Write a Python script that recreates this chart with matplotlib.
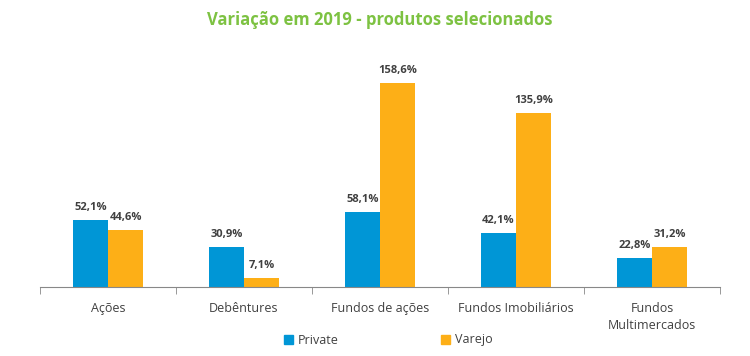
import matplotlib
matplotlib.use("Agg")
import matplotlib.pyplot as plt
import numpy as np
from matplotlib.patches import Patch

categories = ["Ações", "Debêntures", "Fundos de ações", "Fundos Imobiliários", "Fundos\nMultimercados"]
private = [52.1, 30.9, 58.1, 42.1, 22.8]
varejo = [44.6, 7.1, 158.6, 135.9, 31.2]
private_labels = ["52,1%", "30,9%", "58,1%", "42,1%", "22,8%"]
varejo_labels = ["44,6%", "7,1%", "158,6%", "135,9%", "31,2%"]

plt.rcParams['font.family'] = ['Open Sans', 'DejaVu Sans']

blue = "#0096D6"
orange = "#FDAF17"
txt = "#404040"

fig = plt.figure(figsize=(7.5, 3.56), dpi=100)
ax = fig.add_axes([40/750, 1-287/356, 680/750, (287-56)/356])

x = np.arange(len(categories))
w = 0.26
b1 = ax.bar(x - w/2, private, w, color=blue)
b2 = ax.bar(x + w/2, varejo, w, color=orange)

for xi, v, l in zip(x, private, private_labels):
    ax.text(xi - w/2, v + 5.5, l, ha="center", va="bottom", fontsize=8, fontweight="bold", color=txt)
for xi, v, l in zip(x, varejo, varejo_labels):
    ax.text(xi + w/2, v + 5.5, l, ha="center", va="bottom", fontsize=8, fontweight="bold", color=txt)

ax.set_xlim(-0.5, len(categories) - 0.5)
ax.set_ylim(0, 180)
for s in ["top", "right", "left"]:
    ax.spines[s].set_visible(False)
ax.spines["bottom"].set_color("#888888")
ax.set_yticks([])
ax.set_xticks(x)
ax.set_xticklabels(categories, fontsize=9, color=txt, linespacing=1.35)
ax.tick_params(axis="x", which="major", length=0, pad=11)
ax.set_xticks(np.arange(-0.5, len(categories)), minor=True)
ax.tick_params(axis="x", which="minor", length=5, color="#888888")

fig.text(380/750, 1-20/356, "Variação em 2019 - produtos selecionados", ha="center", va="center",
         fontsize=12, fontweight="bold", color="#7DC242")

handles = [Patch(color=blue, label="Private"), Patch(color=orange, label="Varejo")]
fig.legend(handles=handles, loc="center", bbox_to_anchor=(388/750, 1-340/356), ncol=2, frameon=False,
           fontsize=9, handlelength=0.7, handleheight=0.7, columnspacing=8.2, handletextpad=0.4,
           labelcolor=txt)

fig.savefig("out.png", dpi=100)
